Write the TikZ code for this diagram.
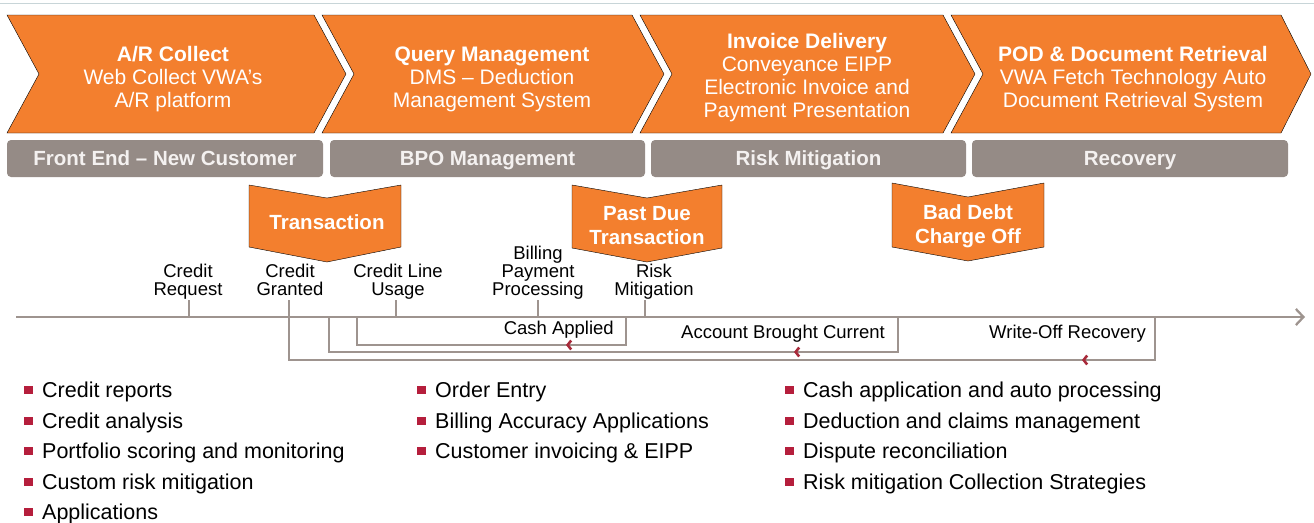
\documentclass[tikz,border=0pt]{standalone}
\usepackage{fontspec}
\setmainfont{Liberation Sans}
\usetikzlibrary{arrows.meta,decorations.markings}
\definecolor{vwaorange}{HTML}{F37F2E}
\definecolor{phasegray}{HTML}{958B86}
\definecolor{axisgray}{HTML}{9E948F}
\definecolor{backred}{HTML}{A82A3A}
\definecolor{bulletred}{HTML}{B51E3C}
\definecolor{phasetext}{HTML}{F4F1F0}
\definecolor{rulegray}{HTML}{C8D5D8}

\begin{document}
\begin{tikzpicture}[x=1pt,y=-1pt,
    chev/.style={fill=vwaorange},
    chevtext/.style={text=white,align=center,font=\fontsize{21}{23}\selectfont},
    phasebar/.style={fill=phasegray,rounded corners=4pt,minimum height=37pt,inner sep=0pt,
        text=phasetext,text height=14.7pt,text depth=0pt,font=\fontsize{20.5}{22}\selectfont\bfseries},
    flagshape/.style={fill=vwaorange},
    flagtext/.style={text=white,align=center,font=\fontsize{20.5}{24}\selectfont\bfseries},
    tickline/.style={draw=axisgray,line width=2.3pt},
    ticklabel/.style={align=center,anchor=south,inner sep=0pt,text depth=4pt,font=\fontsize{18.5}{18}\selectfont},
    backline/.style={draw=axisgray,line width=2.3pt,
        decoration={markings,mark=at position #1 with {\arrow{Straight Barb[length=3.5pt,width=9pt,line width=2.6pt,color=backred]}}},
        postaction={decorate}},
    backtext/.style={anchor=east,inner sep=0pt,text height=13.2pt,text depth=0pt,font=\fontsize{18.5}{20}\selectfont},
    bulletitem/.style={anchor=west,inner sep=0pt,text height=19.2pt,text depth=3.8pt,font=\fontsize{21.5}{24}\selectfont,
        label={[fill=bulletred,minimum size=8.5pt,inner sep=0pt,label distance=9pt]left:{}}}]
    \useasboundingbox (0,0) rectangle (1314,522);
    \draw[rulegray,line width=1pt] (0,3) -- (1314,3);

    \draw[chev] (7,15) -- (314,15) -- (346,74) -- (314,133) -- (7,133) -- (39,74) -- cycle;
    \draw[chev] (322,15) -- (632,15) -- (664,74) -- (632,133) -- (322,133) -- (354,74) -- cycle;
    \draw[chev] (640,15) -- (943,15) -- (975,74) -- (943,133) -- (640,133) -- (672,74) -- cycle;
    \draw[chev] (951,15) -- (1281,15) -- (1311,74) -- (1281,133) -- (951,133) -- (983,74) -- cycle;
    \node[chevtext] (arcollect) at (173,79) {\textbf{A/R Collect}\\Web Collect VWA’s\\A/R platform};
    \node[chevtext] (querymgmt) at (492,79) {\textbf{Query Management}\\DMS -- Deduction\\Management System};
    \node[chevtext] (invoicedel) at (807,77.5) {\textbf{Invoice Delivery}\\Conveyance EIPP\\Electronic Invoice and\\Payment Presentation};
    \node[chevtext] (podretrieval) at (1133,79) {\textbf{POD \& Document Retrieval}\\VWA Fetch Technology Auto\\Document Retrieval System};

    \node[phasebar,minimum width=316pt] (frontend) at (165,158.5) {Front End -- New Customer};
    \node[phasebar,minimum width=315pt] (bpo) at (487.5,158.5) {BPO Management};
    \node[phasebar,minimum width=315pt] (riskmit) at (808.5,158.5) {Risk Mitigation};
    \node[phasebar,minimum width=316pt] (recovery) at (1130,158.5) {Recovery};

    \draw[flagshape] (249,185) -- (327,198) -- (401,185) -- (401,247) -- (327,262) -- (249,247) -- cycle;
    \draw[flagshape] (572,185) -- (647,198) -- (722,185) -- (722,248) -- (647,262) -- (572,248) -- cycle;
    \draw[flagshape] (892,183) -- (968,197) -- (1044,183) -- (1044,247) -- (968,261) -- (892,247) -- cycle;
    \node[flagtext,text height=14.7pt,text depth=0pt] (transaction) at (327,222) {Transaction};
    \node[flagtext] (pastdue) at (647,226) {Past Due\\Transaction};
    \node[flagtext] (baddebt) at (968,226) {Bad Debt\\Charge Off};

    \coordinate (axisL) at (16,317);
    \coordinate (axisR) at (1305,317);
    \draw[axisgray,line width=2.3pt,-{Straight Barb[length=7.5pt,width=16pt]}] (axisL) -- (axisR);

    \node[ticklabel] (request) at (188,300) {Credit\\Request};
    \node[ticklabel] (granted) at (290,300) {Credit\\Granted};
    \node[ticklabel] (lineusage) at (398,300) {Credit Line\\Usage};
    \node[ticklabel] (billing) at (538,300) {Billing\\Payment\\Processing};
    \node[ticklabel] (riskmitig) at (654,300) {Risk\\Mitigation};
    \coordinate (tRequest) at (189,300);
    \coordinate (tGranted) at (289,300);
    \coordinate (tUsage) at (396,300);
    \coordinate (tBilling) at (538,300);
    \coordinate (tRisk) at (645,300);
    \draw[tickline] (tRequest) -- (tRequest |- axisL);
    \draw[tickline] (tGranted) -- (tGranted |- axisL);
    \draw[tickline] (tUsage) -- (tUsage |- axisL);
    \draw[tickline] (tBilling) -- (tBilling |- axisL);
    \draw[tickline] (tRisk) -- (tRisk |- axisL);

    \coordinate (cashR) at (626,317);
    \coordinate (cashL) at (357,317);
    \coordinate (currentR) at (898,317);
    \coordinate (currentL) at (329,317);
    \coordinate (writeoffR) at (1155,317);
    \coordinate (writeoffL) at (289,317);
    \draw[backline=88pt] (cashR) -- ++(0,28) -| (cashL);
    \draw[backline=139pt] (currentR) -- ++(0,35) -| (currentL);
    \draw[backline=116pt] (writeoffR) -- ++(0,43) -| (writeoffL);
    \node[backtext] (cashapplied) at (614,328) {Cash Applied};
    \node[backtext] (broughtcurrent) at (885,332) {Account Brought Current};
    \node[backtext] (writeoffrec) at (1146,332) {Write-Off Recovery};

    \node[bulletitem] (reports) at (42,390) {Credit reports};
    \node[bulletitem] (analysis) at (42,421) {Credit analysis};
    \node[bulletitem] (portfolio) at (42,451) {Portfolio scoring and monitoring};
    \node[bulletitem] (customrisk) at (42,482) {Custom risk mitigation};
    \node[bulletitem] (applications) at (42,512) {Applications};
    \node[bulletitem] (orderentry) at (435,390) {Order Entry};
    \node[bulletitem] (accuracy) at (435,421) {Billing Accuracy Applications};
    \node[bulletitem] (invoicing) at (435,451) {Customer invoicing \& EIPP};
    \node[bulletitem] (cashapp) at (803,390) {Cash application and auto processing};
    \node[bulletitem] (deduction) at (803,421) {Deduction and claims management};
    \node[bulletitem] (dispute) at (803,451) {Dispute reconciliation};
    \node[bulletitem] (collection) at (803,482) {Risk mitigation Collection Strategies};
\end{tikzpicture}
\end{document}
